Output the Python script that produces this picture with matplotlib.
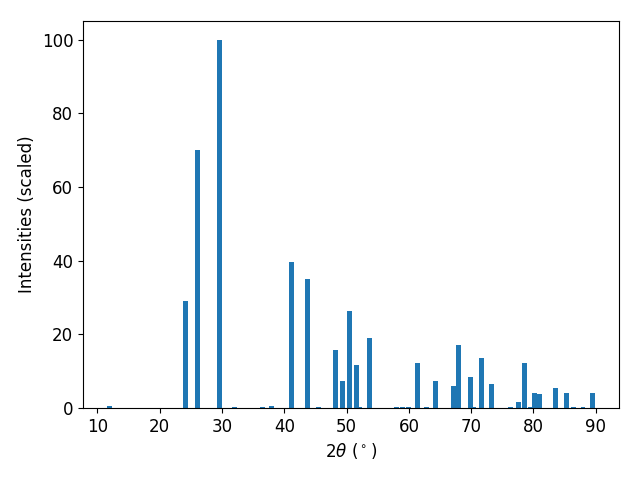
import matplotlib
matplotlib.use("Agg")
import matplotlib.pyplot as plt

two_theta = [12.0, 24.1, 26.0, 29.55, 32.0, 36.5, 37.95, 41.15, 43.7, 45.45,
             48.2, 49.35, 50.45, 51.55, 52.0, 53.6, 58.0, 59.0, 60.0, 61.4,
             62.8, 64.25, 67.15, 67.95, 69.85, 70.3, 71.6, 73.2, 76.25, 77.55,
             78.5, 79.6, 80.1, 80.9, 83.5, 85.25, 86.35, 87.95, 89.4]
intensity = [0.6, 29.1, 70.0, 100.0, 0.3, 0.3, 0.5, 39.7, 35.1, 0.3,
             15.8, 7.4, 26.2, 11.8, 0.3, 19.1, 0.3, 0.3, 0.3, 12.1,
             0.3, 7.4, 6.1, 17.2, 8.3, 0.3, 13.7, 6.4, 0.3, 1.5,
             12.3, 0.3, 4.2, 3.9, 5.5, 4.2, 0.3, 0.3, 4.2]

fig, ax = plt.subplots(figsize=(6.4, 4.8), dpi=100)
ax.bar(two_theta, intensity, width=0.8, color="#1f77b4")
ax.set_xlabel(r"$2\theta$ ($^\circ$)", fontsize=12)
ax.set_ylabel("Intensities (scaled)", fontsize=12)
ax.tick_params(labelsize=12)
fig.subplots_adjust(left=0.1297, right=0.967, bottom=0.15, top=0.956)
fig.savefig("out.png")
